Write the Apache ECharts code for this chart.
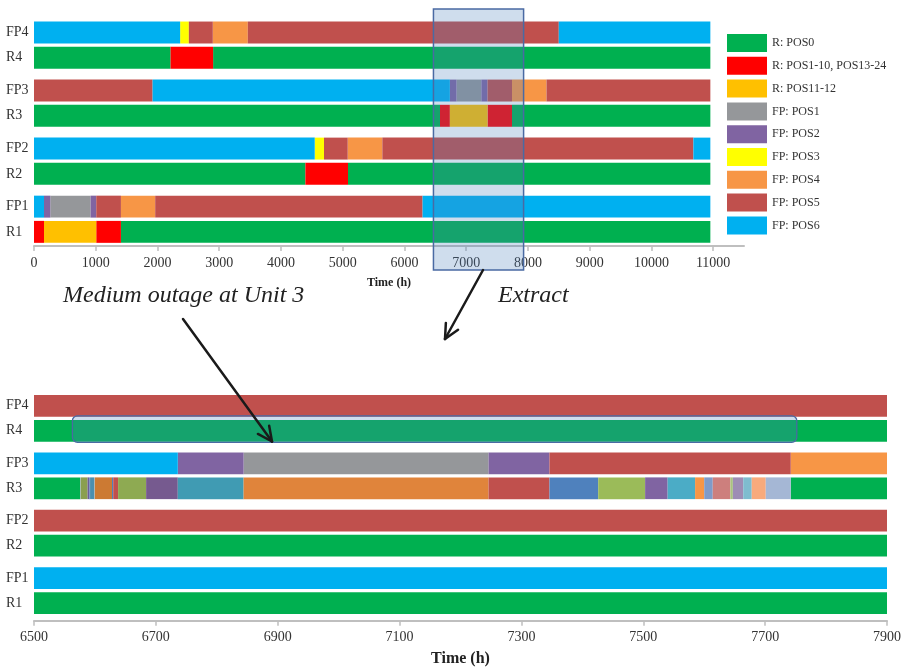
<!DOCTYPE html>
<html>
<head>
<meta charset="utf-8">
<script src="https://cdn.jsdelivr.net/npm/echarts@6/dist/echarts.min.js"></script>
<style>
  html, body { margin: 0; padding: 0; background: #fff; }
  #main { width: 904px; height: 667px; }
</style>
</head>
<body>
<div id="main"></div>
<script>
// Unit states shown in the legend and their colours
const STATES = ['R: POS0', 'R: POS1-10, POS13-24', 'R: POS11-12', 'FP: POS1', 'FP: POS2',
                'FP: POS3', 'FP: POS4', 'FP: POS5', 'FP: POS6'];
const STATE_COLORS = ['#00b050', '#ff0000', '#ffc000', '#95979a', '#8064a2',
                      '#ffff00', '#f79646', '#c0504d', '#00b0f0'];

// Rows (bottom to top) and their position on the vertical scale
const ROWS = ['R1', 'FP1', 'R2', 'FP2', 'R3', 'FP3', 'R4', 'FP4'];
const ROW_POS = [0, 1, 2.3, 3.3, 4.6, 5.6, 6.9, 7.9];

// Schedule segments per row: [start h, end h, state index]
const SEG_R1  = [[0, 162, 1], [162, 1008, 2], [1008, 1408, 1], [1408, 10955, 0]];
const SEG_FP1 = [[0, 162, 8], [162, 264, 4], [264, 917, 3], [917, 1008, 4], [1008, 1408, 7],
                 [1408, 1963, 6], [1963, 6294, 7], [6294, 10955, 8]];
const SEG_R2  = [[0, 4396, 0], [4396, 5086, 1], [5086, 10955, 0]];
const SEG_FP2 = [[0, 4547, 8], [4547, 4697, 5], [4697, 5081, 7], [5081, 5642, 6],
                 [5642, 10680, 7], [10680, 10955, 8]];
const SEG_R3  = [[0, 6576, 0], [6576, 6736, 1], [6736, 7346, 2], [7346, 7742, 1], [7742, 10955, 0]];
const SEG_FP3 = [[0, 1921, 7], [1921, 6736, 8], [6736, 6844, 4], [6844, 7246, 3], [7246, 7346, 4],
                 [7346, 7742, 7], [7742, 8301, 6], [8301, 10955, 7]];
const SEG_R4  = [[0, 2212, 0], [2212, 2901, 1], [2901, 10955, 0]];
const SEG_FP4 = [[0, 2367, 8], [2367, 2508, 5], [2508, 2896, 7], [2896, 3463, 6],
                 [3463, 8500, 7], [8500, 10955, 8]];
const ROW_SEGMENTS = [SEG_R1, SEG_FP1, SEG_R2, SEG_FP2, SEG_R3, SEG_FP3, SEG_R4, SEG_FP4];

// Detailed maintenance positions of unit 3 during its outage: [start h, end h, colour index]
const R3_DETAIL = [
  [6576, 6577, 0], [6577, 6588, 1], [6588, 6591, 2], [6591, 6592, 3], [6592, 6599, 4],
  [6599, 6600, 0], [6600, 6628, 5], [6628, 6630, 3], [6630, 6638, 6], [6638, 6684, 7],
  [6684, 6736, 8], [6736, 6844, 9], [6844, 7246, 10], [7246, 7346, 6], [7346, 7426, 3],
  [7426, 7503, 11], [7503, 7540, 12], [7540, 7585, 13], [7585, 7600, 14], [7600, 7614, 15],
  [7614, 7643, 16], [7643, 7647, 17], [7647, 7664, 18], [7664, 7678, 19], [7678, 7701, 20],
  [7701, 7742, 21]
];
const DETAIL_COLORS = ['#a5a5a5', '#8a9f4f', '#6a5c9a', '#4f81bd', '#4a8fb0', '#cc7a33',
                       '#c0504d', '#8eaa52', '#765a8f', '#409bb3', '#e0843b', '#9bbb59',
                       '#8064a2', '#4bacc6', '#f79646', '#7f9bc9', '#cd7f7d', '#a9c47f',
                       '#9e8db5', '#7fbccf', '#f8aa7c', '#a5b7d5'];

// Axis ticks
const FULL_TICKS = [0, 1000, 2000, 3000, 4000, 5000, 6000, 7000, 8000, 9000, 10000, 11000];
const ZOOM_TICKS = [6500, 6700, 6900, 7100, 7300, 7500, 7700, 7900];
const FULL_RANGE = [0, 11500];
const ZOOM_RANGE = [6500, 7900];

// Highlighted windows
const EXTRACT_WINDOW = [6470, 7930];
const OUTAGE_WINDOW = [6563, 7752];
const OUTAGE_ROW = 6; // R4 row in the detail view

const BAR_H = 0.87;
const SERIF = '"Liberation Serif", "Times New Roman", serif';
const TEXT_COLOR = '#333';
const AXIS_GRAY = '#bfbfbf';
const OVERLAY_FILL = 'rgba(79,129,189,0.27)';
const OVERLAY_STROKE = '#4a6aa3';

function renderSegment(params, api) {
  const yv = api.value(2);
  const a = api.coord([api.value(0), yv]);
  const b = api.coord([api.value(1), yv]);
  const h = api.size([0, BAR_H])[1];
  const cs = params.coordSys;
  const shape = echarts.graphic.clipRectByRect(
    { x: a[0], y: a[1] - h / 2, width: b[0] - a[0], height: h },
    { x: cs.x, y: cs.y, width: cs.width, height: cs.height });
  return shape && { type: 'rect', shape: shape, style: { fill: api.visual('color') } };
}

function xAxisFor(gridIndex, range, ticks, labelSize, nameSize, nameGap) {
  return {
    type: 'value', gridIndex: gridIndex, min: range[0], max: range[1],
    name: 'Time (h)', nameLocation: 'middle', nameGap: nameGap,
    nameTextStyle: { fontFamily: SERIF, fontWeight: 'bold', fontSize: nameSize, color: '#222' },
    axisLine: { show: true, onZero: false, lineStyle: { color: AXIS_GRAY, width: 2 } },
    axisTick: { show: true, customValues: ticks, length: 5, lineStyle: { color: AXIS_GRAY, width: 1.5 } },
    axisLabel: { customValues: ticks, margin: 10, fontFamily: SERIF, fontSize: labelSize, color: TEXT_COLOR,
                 formatter: v => String(v) },
    splitLine: { show: false }
  };
}

function yAxisFor(gridIndex, min, max) {
  return {
    type: 'value', gridIndex: gridIndex, min: min, max: max,
    axisLine: { show: false }, axisTick: { show: false }, splitLine: { show: false },
    axisLabel: {
      customValues: ROW_POS, align: 'left', margin: 28,
      fontFamily: SERIF, fontSize: 14, color: TEXT_COLOR,
      formatter: function (v) {
        const i = ROW_POS.findIndex(p => Math.abs(p - v) < 1e-6);
        return i >= 0 ? ROWS[i] : '';
      }
    }
  };
}

const series = [];
STATES.forEach(function (name, s) {
  const full = [], zoom = [];
  ROW_SEGMENTS.forEach(function (segs, r) {
    segs.forEach(function (seg) {
      if (seg[2] !== s) return;
      full.push([seg[0], seg[1], ROW_POS[r]]);
      // Unit 3 outage is shown position by position in the detail view
      if (!(ROWS[r] === 'R3' && s !== 0)) zoom.push([seg[0], seg[1], ROW_POS[r]]);
    });
  });
  const base = { type: 'custom', name: name, renderItem: renderSegment, silent: true,
                 itemStyle: { color: STATE_COLORS[s] }, encode: { x: [0, 1], y: 2 } };
  series.push(Object.assign({}, base, { xAxisIndex: 0, yAxisIndex: 0, data: full }));
  series.push(Object.assign({}, base, { xAxisIndex: 1, yAxisIndex: 1, data: zoom }));
});
series.push({
  type: 'custom', name: 'R3 detail', renderItem: renderSegment, silent: true,
  xAxisIndex: 1, yAxisIndex: 1, encode: { x: [0, 1], y: 2 },
  data: R3_DETAIL.map(d => ({ value: [d[0], d[1], ROW_POS[ROWS.indexOf('R3')]],
                              itemStyle: { color: DETAIL_COLORS[d[2]] } }))
});

const chart = echarts.init(document.getElementById('main'), null, { renderer: 'canvas' });
chart.setOption({
  animation: false,
  backgroundColor: '#fff',
  legend: {
    data: STATES, orient: 'vertical', left: 727, top: 34, padding: 0,
    icon: 'rect', itemWidth: 40, itemHeight: 18, itemGap: 4.8,
    textStyle: { fontFamily: SERIF, fontSize: 12, color: TEXT_COLOR },
    selectedMode: false
  },
  grid: [
    { left: 34, top: 19.9, width: 710, height: 226.1, outerBoundsMode: 'none' },
    { left: 34, top: 393.3, width: 853, height: 227.4, outerBoundsMode: 'none' }
  ],
  xAxis: [
    xAxisFor(0, FULL_RANGE, FULL_TICKS, 14, 12, 31),
    xAxisFor(1, ZOOM_RANGE, ZOOM_TICKS, 14, 16, 30)
  ],
  yAxis: [yAxisFor(0, -0.56, 8.4), yAxisFor(1, -0.7, 8.4)],
  series: series
});

// Annotations: extract window, outage frame, arrows and captions
function arrow(x1, y1, x2, y2) {
  const ang = Math.atan2(y2 - y1, x2 - x1), len = 16, spread = 0.45;
  const style = { stroke: '#1a1a1a', lineWidth: 2.5, lineCap: 'round' };
  const head = s => ({
    type: 'line', z: 100, style: style,
    shape: { x1: x2, y1: y2, x2: x2 - len * Math.cos(ang + s), y2: y2 - len * Math.sin(ang + s) }
  });
  return [{ type: 'line', z: 100, style: style, shape: { x1: x1, y1: y1, x2: x2, y2: y2 } },
          head(spread), head(-spread)];
}

const ex0 = chart.convertToPixel({ gridIndex: 0 }, [EXTRACT_WINDOW[0], 0])[0];
const ex1 = chart.convertToPixel({ gridIndex: 0 }, [EXTRACT_WINDOW[1], 0])[0];
const o0 = chart.convertToPixel({ gridIndex: 1 }, [OUTAGE_WINDOW[0], ROW_POS[OUTAGE_ROW]]);
const o1 = chart.convertToPixel({ gridIndex: 1 }, [OUTAGE_WINDOW[1], ROW_POS[OUTAGE_ROW]]);

const graphics = [
  { type: 'rect', z: 90, shape: { x: ex0, y: 9, width: ex1 - ex0, height: 261 },
    style: { fill: OVERLAY_FILL, stroke: OVERLAY_STROKE, lineWidth: 1.5 } },
  { type: 'rect', z: 90, shape: { x: o0[0], y: o0[1] - 15, width: o1[0] - o0[0], height: 26.5, r: 5 },
    style: { fill: OVERLAY_FILL, stroke: OVERLAY_STROKE, lineWidth: 1.3 } },
  { type: 'text', z: 100, style: { text: 'Medium outage at Unit 3', x: 63, y: 296,
      fontFamily: SERIF, fontStyle: 'italic', fontSize: 24, fill: '#222', verticalAlign: 'middle' } },
  { type: 'text', z: 100, style: { text: 'Extract', x: 498, y: 296,
      fontFamily: SERIF, fontStyle: 'italic', fontSize: 24, fill: '#222', verticalAlign: 'middle' } }
].concat(arrow(183, 319, 272, 441.5), arrow(ex0 + 0.55 * (ex1 - ex0), 270, 445, 339));

chart.setOption({ graphic: graphics });
</script>
</body>
</html>
